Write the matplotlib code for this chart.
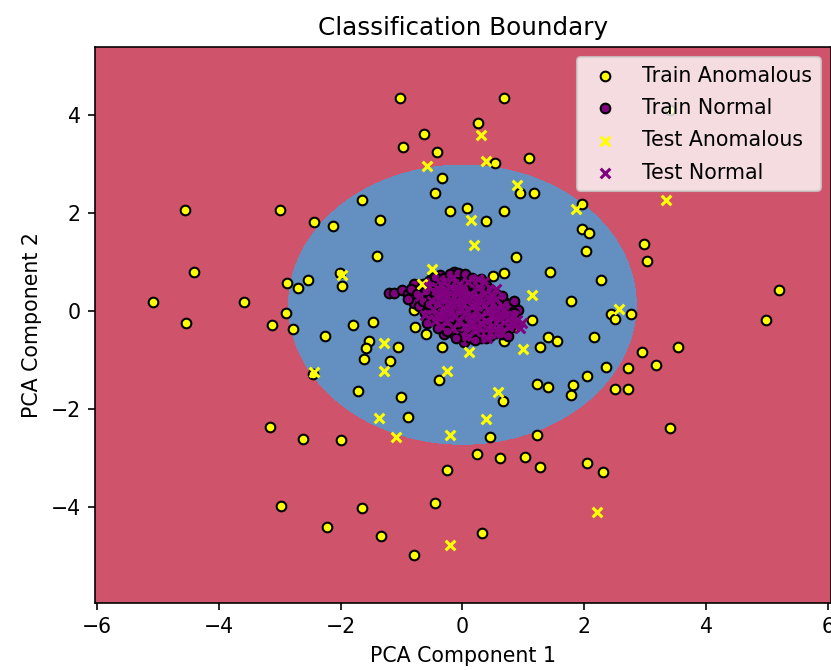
import numpy as np
import matplotlib
matplotlib.use("Agg")
import matplotlib.pyplot as plt

# --- data ---
train_anom_x = [-4.56, -3.00, -2.43, -2.12, -1.03, 0.68, 0.26, -0.63, -0.97, -0.41, 0.53, 1.10,
                -0.33, -0.45, 0.95, 1.18, -1.64, -1.35, -0.21, 0.08, 0.38, 0.68, 1.97, 1.97, 2.07, 3.40,
                -4.41, -5.07, -4.53, -3.59, -2.88, -2.70, -2.53, -2.01, -1.98, -2.90, -3.12, -2.78, -2.26, -2.45,
                -1.40, 0.88, 1.44, 2.03, 0.50, 0.68, 1.79, 1.15, -1.80, -1.47, -0.78, -0.60, -0.79, -0.83,
                -1.54, -1.59, -1.61, -1.05, -1.18, -0.33, 0.68, 0.68, 0.86, 1.27, 1.40, 1.55, 2.05, -0.38,
                -1.72, -1.00, 0.66, 1.23, 1.40, 1.82, 1.79, -0.90,
                2.98, 3.03, 2.28, 5.20, 4.98, 2.44, 2.51, 2.76, 2.16, 2.95, 3.54, 3.18, 2.71, 2.36, 2.51, 2.71,
                -3.15, -2.61, -1.99, -2.98, -2.23, 0.46, 1.23, 0.24, 0.61, 1.03, 1.27, 2.04, -0.26, -0.45,
                -1.64, -1.33, 0.33, -0.80, 3.40, 2.31]
train_anom_y = [2.06, 2.06, 1.81, 1.73, 4.35, 4.35, 3.83, 3.61, 3.34, 3.24, 3.03, 3.12,
                2.72, 2.41, 2.41, 2.41, 2.27, 1.86, 2.05, 2.11, 1.84, 2.05, 2.18, 1.68, 1.59, 4.10,
                0.79, 0.18, -0.25, 0.18, 0.58, 0.48, 0.64, 0.77, 0.51, -0.03, -0.29, -0.37, -0.50, -1.29,
                1.13, 1.10, 0.80, 1.22, 0.71, 0.77, 0.21, -0.19, -0.28, -0.22, -0.32, -0.46, 0.02, 0.24,
                -0.61, -0.76, -0.98, -0.73, -1.01, -0.73, -0.61, -0.38, -0.33, -0.73, -0.52, -0.61, -1.32, -1.41,
                -1.63, -1.75, -1.84, -1.48, -1.56, -1.52, -1.72, -2.16,
                1.37, 1.03, 0.63, 0.42, -0.19, -0.06, -0.16, -0.06, -0.52, -0.83, -0.74, -1.11, -1.16, -1.14, -1.60, -1.60,
                -2.36, -2.61, -2.64, -3.99, -4.41, -2.58, -2.54, -2.92, -3.01, -2.97, -3.19, -3.10, -3.25, -3.92,
                -4.02, -4.60, -4.54, -4.97, -2.39, -3.29]

train_norm_x = [-1.21, -1.12, -0.99, -0.80, -0.80, -0.69, -0.61, -0.50, -0.36, -0.14, -0.03, 0.24, 0.38,
                0.51, 0.68, 0.84, 0.92, 0.65, 0.51, 0.24, 0.02, -0.06, -0.31, -0.42, -0.20,
                -0.55, -0.45, -0.40, -0.30, -0.25, -0.20, -0.15, -0.10, -0.05, 0.00, 0.05, 0.10, 0.12, 0.18,
                0.22, 0.28, 0.30, 0.35, 0.40, 0.45, 0.48, 0.55, 0.60, 0.70, 0.75, -0.60, -0.50, -0.35, -0.28,
                -0.15, -0.05, 0.05, 0.15, 0.30, 0.38, -0.70, -0.62, -0.45, -0.38, -0.12, 0.08, 0.15, 0.20,
                0.42, 0.58, 0.62, -0.25, 0.00, 0.10, -0.08,
                -0.90, -0.85, -0.75, -0.65, -0.55, -0.45, -0.30, -0.20, -0.08, 0.05, 0.15, 0.30, -0.72, -0.65,
                -0.55, -0.48, -0.35, -0.22, -0.12, 0.02, 0.08, 0.22, 0.35, 0.45, 0.55, 0.65, 0.75, 0.85,
                0.80, 0.70, 0.55, 0.45, 0.30, 0.12, 0.00, -0.15, -0.25, -0.40, -0.52, -0.58, -0.35, -0.20,
                -0.05, 0.10, 0.25, 0.38, 0.50, 0.60, 0.42, 0.28, 0.18, -0.02, -0.30, -0.42, -0.60, -0.90,
                0.85, 0.75, -0.10, 0.20]
train_norm_y = [0.36, 0.36, 0.43, 0.56, 0.16, 0.26, 0.09, 0.67, 0.73, 0.80, 0.73, 0.60, 0.53,
                0.26, 0.19, 0.12, 0.02, -0.46, -0.39, -0.56, -0.63, -0.42, -0.46, -0.22, -0.32,
                0.45, 0.30, 0.55, 0.40, 0.62, 0.20, 0.45, 0.05, 0.30, 0.55, 0.15, 0.40, -0.05, 0.25,
                -0.25, 0.05, 0.38, -0.15, 0.15, -0.30, 0.00, -0.10, 0.05, -0.05, -0.20, 0.30, 0.05, 0.10, -0.10,
                -0.15, -0.25, -0.40, -0.30, -0.40, -0.55, 0.45, -0.05, -0.05, 0.22, 0.65, 0.68, 0.55, 0.10,
                0.35, 0.20, -0.30, -0.28, -0.10, 0.25, 0.12,
                0.35, 0.45, 0.35, 0.55, 0.62, 0.70, 0.68, 0.75, 0.78, 0.75, 0.68, 0.65, 0.10, 0.20,
                0.15, 0.40, 0.48, 0.35, 0.28, 0.45, 0.05, 0.45, 0.45, 0.45, 0.35, 0.30, 0.15, -0.05,
                -0.30, -0.40, -0.45, -0.50, -0.55, -0.55, -0.50, -0.45, -0.40, -0.35, -0.15, -0.25, -0.15, -0.05,
                0.00, -0.15, -0.10, -0.05, 0.10, -0.15, -0.20, 0.20, 0.35, 0.20, 0.25, 0.15, 0.40, 0.25,
                0.20, -0.50, -0.55, -0.60]

test_anom_x = [0.31, -0.58, 0.38, 0.90, 0.14, 1.86, 3.35, -1.98, -2.44, 0.19, -0.50, -0.67, 1.15,
               -1.28, -1.28, 0.11, 1.00, -0.25, 0.59, -1.37, 0.38, -1.09, -0.20, -0.21, 2.21, 2.57]
test_anom_y = [3.59, 2.97, 3.06, 2.58, 1.86, 2.08, 2.26, 0.73, -1.24, 1.35, 0.86, 0.56, 0.33,
               -0.65, -1.22, -0.83, -0.77, -1.22, -1.66, -2.18, -2.21, -2.58, -2.54, -4.78, -4.11, 0.04]

test_norm_x = [-0.61, -0.40, -0.30, -0.20, -0.10, -0.05, 0.00, 0.05, 0.10, 0.15, 0.20, 0.25, 0.30,
               0.35, 0.40, 0.45, 0.50, 0.55, 0.60, 0.70, 0.79, 0.90, 0.98, -0.50, -0.35, -0.15, 0.05,
               0.12, 0.28, -0.25, 0.65, 0.40,
               -0.70, -0.55, -0.45, -0.30, -0.15, -0.05, 0.10, 0.20, 0.35, 0.45, 0.55, 0.65, 0.75, 0.85,
               0.15, -0.20, 0.00, 0.30, -0.40, 0.50, 0.95, 0.85, -0.10, 0.25,
               -0.48, -0.38, -0.28, -0.18, -0.08, 0.02, 0.12, 0.22, 0.32, 0.42, 0.52, 0.62,
               -0.42, -0.32, -0.22, -0.12, -0.02, 0.08, 0.18, 0.28, 0.38, 0.48, 0.58, 0.68,
               -0.35, -0.25, 0.05, 0.35, 0.55]
test_norm_y = [-0.08, 0.35, 0.05, 0.50, 0.20, -0.20, 0.40, -0.05, 0.60, 0.10, -0.40, 0.30, -0.10,
               0.10, -0.35, 0.20, -0.15, 0.05, -0.30, -0.10, -0.15, -0.18, -0.25, 0.20, -0.30, 0.70, 0.30,
               -0.25, 0.50, 0.30, -0.45, -0.55,
               0.30, 0.50, -0.20, 0.60, -0.35, 0.55, -0.50, 0.15, 0.35, -0.45, 0.25, 0.10, -0.30, -0.10,
               -0.10, 0.05, 0.15, -0.25, 0.45, -0.30, -0.35, -0.28, 0.40, 0.65,
               0.05, 0.25, 0.40, 0.15, 0.45, 0.28, 0.35, 0.00, 0.20, 0.05, -0.05, -0.15,
               -0.10, -0.05, 0.10, -0.10, 0.05, 0.20, -0.25, -0.35, -0.20, 0.30, -0.40, 0.00,
               0.55, -0.20, -0.30, 0.60, 0.45]

# decision boundary (roughly circular region)
center_y = 0.13
radius = 2.87

x_range = (-6.03, 6.05)
y_range = (-5.96, 5.39)

fig = plt.figure(figsize=(831 / 148, 670 / 148), dpi=148)
ax = fig.add_axes([95 / 831, 67 / 670, 736 / 831, 556 / 670])

xx, yy = np.meshgrid(np.linspace(*x_range, 600), np.linspace(*y_range, 600))
Z = np.sqrt(xx ** 2 + (yy - center_y) ** 2) - radius
ax.contourf(xx, yy, Z, levels=[Z.min(), 0, Z.max()], colors=["#6390C0", "#CF546B"])

ax.scatter(train_anom_x, train_anom_y, c="yellow", edgecolors="k", s=22, label="Train Anomalous")
ax.scatter(train_norm_x, train_norm_y, c="purple", edgecolors="k", s=22, label="Train Normal")
ax.scatter(test_anom_x, test_anom_y, c="yellow", marker="x", s=22, label="Test Anomalous")
ax.scatter(test_norm_x, test_norm_y, c="purple", marker="x", s=22, label="Test Normal")

ax.set_xlim(*x_range)
ax.set_ylim(*y_range)
ax.set_title("Classification Boundary")
ax.set_xlabel("PCA Component 1")
ax.set_ylabel("PCA Component 2")
ax.legend(loc="upper right", labelspacing=0.6)

fig.savefig("out.png", dpi=148)
